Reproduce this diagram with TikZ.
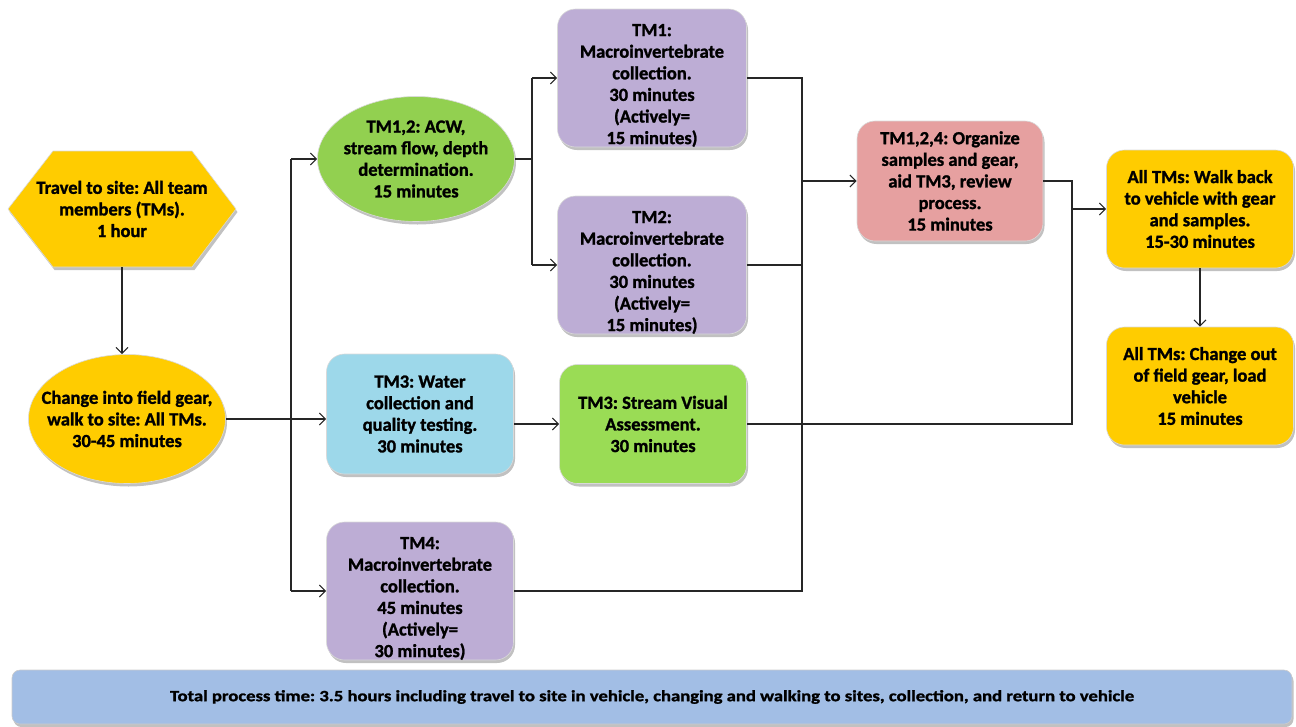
\documentclass[tikz,border=0pt]{standalone}
\usepackage{fontspec}
\setmainfont{Carlito}[BoldFeatures={FakeBold=1.3}]
\usetikzlibrary{arrows.meta,shapes.geometric,shadows,calc}
\definecolor{cPurple}{HTML}{BDADD5}
\definecolor{cGreen}{HTML}{9ADC55}
\definecolor{cGreenE}{HTML}{92D050}
\definecolor{cBlue}{HTML}{9DD8EA}
\definecolor{cYellow}{HTML}{FFCC00}
\definecolor{cPink}{HTML}{E6A0A0}
\definecolor{cBar}{HTML}{A2BEE5}
\frenchspacing
\newcommand{\lowstrut}{\rule{0pt}{27pt}}
\begin{document}
\begin{tikzpicture}[x=1pt,y=-1pt,
  txt/.style={font=\bfseries\fontsize{18.5}{21.6}\selectfont, align=center, inner sep=0pt},
  shd/.style={drop shadow={shadow xshift=1.5pt, shadow yshift=-3pt, opacity=0.35, fill=black!70}},
  box/.style 2 args={txt, rectangle, rounded corners=18pt, minimum width=#1, minimum height=#2, draw=black!15, line width=0.6pt, shd},
  ell/.style 2 args={ellipse, minimum width=#1, minimum height=#2, inner sep=0pt, draw=black!15, line width=0.6pt, shd},
  conn/.style={line width=1.1pt, black!85},
  arr/.style={conn, -{Straight Barb[length=6pt,width=12pt,line width=1.1pt]}}]
\useasboundingbox (0,0) rectangle (1296,726);

% hexagon
\fill[black!70, opacity=0.35] (9.5,212) -- (54.5,154) -- (194.5,154) -- (237.5,212) -- (194.5,270) -- (54.5,270) -- cycle;
\filldraw[fill=cYellow, draw=black!15, line width=0.6pt] (8,209) -- (53,151) -- (192,151) -- (236,209) -- (192,267) -- (53,267) -- cycle;
\node[txt, minimum width=228, minimum height=116] (travel) at (122,209) {Travel to site: All team\\members (TMs).\\1 hour};

% ellipses
\node[ell={197}{129}, fill=cYellow] (change) at (127,419) {};
\node[txt] (changet) at (change) {Change into field gear,\\walk to site: All TMs.\\30-45 minutes};
\node[ell={197}{125}, fill=cGreenE] (acw) at (416,159) {};
\node[txt] (acwt) at (acw) {TM1,2: ACW,\\stream flow, depth\\determination.\\15 minutes};

% boxes
\node[box={189}{138}, fill=cPurple] (tm1) at (652,78) {\lowstrut TM1:\\Macroinvertebrate\\collection.\\30 minutes\\(Actively=\\15 minutes)};
\node[box={189}{138}, fill=cPurple] (tm2) at (652,265) {\lowstrut TM2:\\Macroinvertebrate\\collection.\\30 minutes\\(Actively=\\15 minutes)};
\node[box={187}{120}, fill=cBlue] (water) at (420,414) {TM3: Water\\collection and\\quality testing.\\30 minutes};
\node[box={187}{119}, fill=cGreen] (visual) at (653,424) {TM3: Stream Visual\\Assessment.\\30 minutes};
\node[box={187}{138}, fill=cPurple] (tm4) at (420,591) {\lowstrut TM4:\\Macroinvertebrate\\collection.\\45 minutes\\(Actively=\\30 minutes)};
\node[box={186}{120}, fill=cPink] (org) at (950,181) {TM1,2,4: Organize\\samples and gear,\\aid TM3, review\\process.\\15 minutes};
\node[box={187}{118}, fill=cYellow] (walk) at (1200,209) {All TMs: Walk back\\to vehicle with gear\\and samples.\\15-30 minutes};
\node[box={187}{118}, fill=cYellow] (changeout) at (1200,386) {All TMs: Change out\\of field gear, load\\vehicle\\15 minutes};
\node[txt, rectangle, rounded corners=8pt, minimum width=1280, minimum height=54, fill=cBar, draw=black!20, line width=0.6pt, shd] (bar) at (652,697) {\resizebox{964pt}{11pt}{Total process time: 3.5 hours including travel to site in vehicle, changing and walking to sites, collection, and return to vehicle}};

% junction coordinates
\coordinate (j1) at (291,419);
\coordinate (j2) at (532,159);
\coordinate (j3) at (802,181);
\coordinate (j4) at (1072,181);

% connectors
\draw[arr] (travel.south) -- (travel.south |- change.north);
\draw[conn] (change.east) -- (j1);
\draw[conn] (j1 |- acw) -- (j1 |- tm4);
\draw[arr] (j1 |- acw) -- (acw.west);
\draw[arr] (j1) -- (j1 -| water.west);
\draw[arr] (j1 |- tm4) -- (tm4.west);

\draw[conn] (acw.east) -- (j2);
\draw[conn] (j2 |- tm1) -- (j2 |- tm2);
\draw[arr] (j2 |- tm1) -- (tm1.west);
\draw[arr] (j2 |- tm2) -- (tm2.west);

\draw[arr] (visual.west -| water.east) -- (visual.west);

\draw[conn] (tm1.east) -- (j3 |- tm1) -- (j3 |- tm4) -- (tm4.east);
\draw[conn] (tm2.east) -- (j3 |- tm2);
\draw[arr] (j3) -- (org.west);

\draw[conn] (org.east) -- (j4) -- (j4 |- visual) -- (visual.east);
\draw[arr] (j4 |- walk) -- (walk.west);
\draw[arr] (walk.south) -- (changeout.north);
\end{tikzpicture}
\end{document}
